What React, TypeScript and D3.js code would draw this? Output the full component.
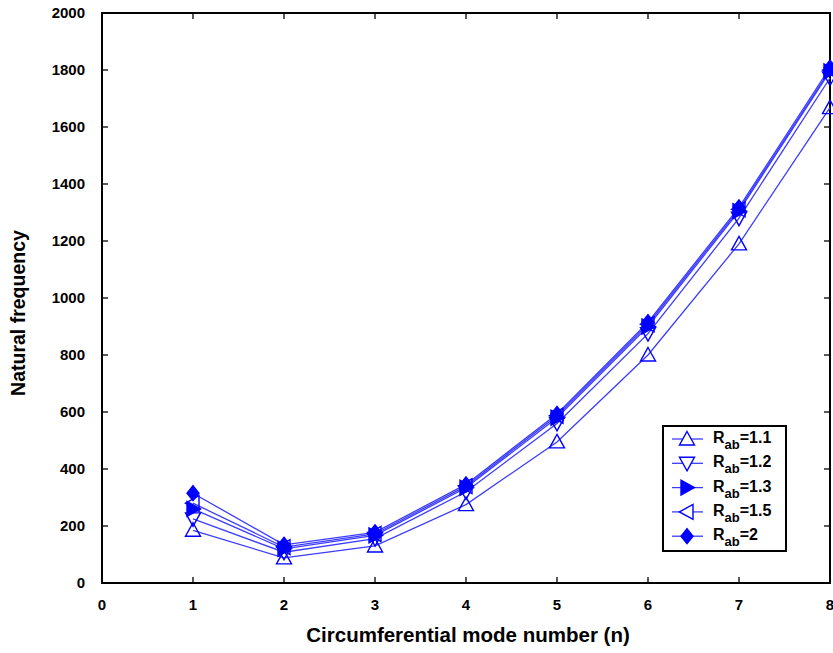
import React, { useEffect, useRef } from 'react'
import * as d3 from 'd3'

// circumferential mode numbers
const modes = [1, 2, 3, 4, 5, 6, 7, 8]

// natural frequency for each radius ratio R_ab
const r11 = [185, 88, 130, 275, 495, 800, 1190, 1668]
const r12 = [225, 108, 156, 320, 560, 875, 1280, 1772]
const r13 = [260, 120, 167, 334, 580, 900, 1305, 1795]
const r15 = [280, 126, 172, 340, 587, 908, 1311, 1800]
const r20 = [315, 134, 178, 346, 593, 915, 1318, 1808]

const seriesNames = ['1.1', '1.2', '1.3', '1.5', '2']
const seriesValues = [r11, r12, r13, r15, r20]
const markerKinds = ['up', 'down', 'right', 'left', 'diamond']

const xTicks = [0, 1, 2, 3, 4, 5, 6, 7, 8]
const yTicks = [0, 200, 400, 600, 800, 1000, 1200, 1400, 1600, 1800, 2000]

const W = 833
const H = 653
const margin = { top: 13, right: 3, bottom: 70, left: 102 }
const blue = '#0000ff'
const lineBlue = '#3c3cff'
const font = 'Liberation Sans, Arial, sans-serif'

// marker path centred on 0,0
function markerPath (kind: string, s: number) {
  const h = s / 2
  if (kind === 'up') return `M0,${-h}L${h},${h * 0.8}L${-h},${h * 0.8}Z`
  if (kind === 'down') return `M0,${h}L${h},${-h * 0.8}L${-h},${-h * 0.8}Z`
  if (kind === 'right') return `M${h},0L${-h * 0.8},${-h}L${-h * 0.8},${h}Z`
  if (kind === 'left') return `M${-h},0L${h * 0.8},${-h}L${h * 0.8},${h}Z`
  return `M0,${-h}L${h * 0.8},0L0,${h}L${-h * 0.8},0Z`
}

export default function App () {
  const ref = useRef<SVGSVGElement>(null)

  useEffect(() => {
    const svg = d3.select(ref.current)
    svg.selectAll('*').remove()

    const width = W - margin.left - margin.right
    const height = H - margin.top - margin.bottom

    const x = d3.scaleLinear().domain([0, 8]).range([margin.left, margin.left + width])
    const y = d3.scaleLinear().domain([0, 2000]).range([margin.top + height, margin.top])

    const x0 = x(0)
    const x1 = x(8)
    const y0 = y(0)
    const y1 = y(2000)
    const tick = 6

    const axes = svg.append('g').attr('stroke', '#000').attr('stroke-width', 1.3)

    // inward ticks on all four sides
    xTicks.slice(1, -1).forEach(t => {
      axes.append('line').attr('x1', x(t)).attr('x2', x(t)).attr('y1', y0).attr('y2', y0 - tick)
      axes.append('line').attr('x1', x(t)).attr('x2', x(t)).attr('y1', y1).attr('y2', y1 + tick)
    })
    yTicks.slice(1, -1).forEach(t => {
      axes.append('line').attr('x1', x0).attr('x2', x0 + tick).attr('y1', y(t)).attr('y2', y(t))
      axes.append('line').attr('x1', x1).attr('x2', x1 - tick).attr('y1', y(t)).attr('y2', y(t))
    })

    svg.append('rect')
      .attr('x', x0).attr('y', y1)
      .attr('width', x1 - x0).attr('height', y0 - y1)
      .attr('fill', 'none').attr('stroke', '#000').attr('stroke-width', 2)

    // tick labels
    svg.append('g').selectAll('text')
      .data(xTicks)
      .join('text')
      .attr('x', d => x(d))
      .attr('y', y0 + 27)
      .attr('text-anchor', 'middle')
      .attr('font-family', font)
      .attr('font-weight', 'bold')
      .attr('font-size', 15)
      .text(d => d)

    svg.append('g').selectAll('text')
      .data(yTicks)
      .join('text')
      .attr('x', x0 - 17)
      .attr('y', d => y(d) + 5)
      .attr('text-anchor', 'end')
      .attr('font-family', font)
      .attr('font-weight', 'bold')
      .attr('font-size', 15)
      .text(d => d)

    // axis titles
    svg.append('text')
      .attr('x', (x0 + x1) / 2 + 2)
      .attr('y', y0 + 59)
      .attr('text-anchor', 'middle')
      .attr('font-family', font)
      .attr('font-weight', 'bold')
      .attr('font-size', 20.5)
      .text('Circumferential mode number (n)')

    svg.append('text')
      .attr('transform', `translate(25,${313}) rotate(-90)`)
      .attr('text-anchor', 'middle')
      .attr('font-family', font)
      .attr('font-weight', 'bold')
      .attr('font-size', 19.5)
      .text('Natural frequency')

    const line = d3.line<number>()
      .x((d, i) => x(modes[i]))
      .y(d => y(d))

    const plot = svg.append('g')

    seriesValues.forEach(vals => {
      plot.append('path')
        .datum(vals)
        .attr('d', line)
        .attr('fill', 'none')
        .attr('stroke', lineBlue)
        .attr('stroke-width', 1.3)
    })

    seriesValues.forEach((vals, si) => {
      const kind = markerKinds[si]
      const filled = kind === 'right' || kind === 'diamond'
      plot.append('g').selectAll('path')
        .data(vals)
        .join('path')
        .attr('transform', (d, i) => `translate(${x(modes[i])},${y(d)})`)
        .attr('d', markerPath(kind, 15))
        .attr('fill', filled ? blue : '#fff')
        .attr('fill-opacity', filled ? 1 : 0)
        .attr('stroke', blue)
        .attr('stroke-width', 1.4)
    })

    // legend
    const lg = svg.append('g')
    lg.append('rect')
      .attr('x', 663).attr('y', 426)
      .attr('width', 123).attr('height', 125)
      .attr('fill', '#fff').attr('stroke', '#000').attr('stroke-width', 2)

    seriesNames.forEach((name, i) => {
      const cy = 439 + i * 24.3
      const kind = markerKinds[i]
      const filled = kind === 'right' || kind === 'diamond'
      lg.append('line')
        .attr('x1', 672).attr('x2', 703)
        .attr('y1', cy).attr('y2', cy)
        .attr('stroke', lineBlue).attr('stroke-width', 1.3)
      lg.append('path')
        .attr('transform', `translate(687,${cy})`)
        .attr('d', markerPath(kind, 15))
        .attr('fill', filled ? blue : '#fff')
        .attr('stroke', blue)
        .attr('stroke-width', 1.4)
      const t = lg.append('text')
        .attr('x', 713)
        .attr('y', cy + 4)
        .attr('font-family', font)
        .attr('font-weight', 'bold')
        .attr('font-size', 16)
      t.append('tspan').text('R')
      t.append('tspan').attr('font-size', 13).attr('dy', 6).text('ab')
      t.append('tspan').attr('dy', -6).text('=' + name)
    })
  }, [])

  return (
    <svg
      ref={ref}
      width={W}
      height={H}
      style={{ position: 'absolute', left: 0, top: 0, background: '#fff' }}
    />
  )
}
